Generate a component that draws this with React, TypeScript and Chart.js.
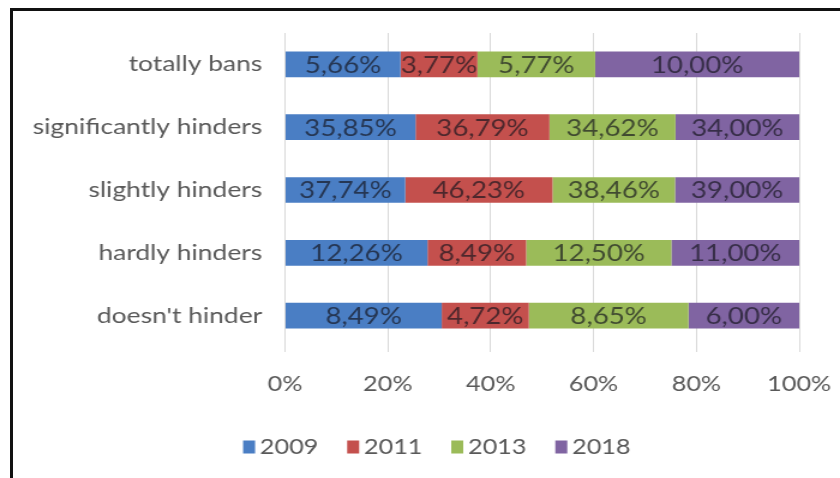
import { useEffect, useRef } from "react";
import { Chart, registerables } from "chart.js";

Chart.register(...registerables);

// Survey answers (rows) and the share of each answer in each survey year.
const categories = [
  "totally bans",
  "significantly hinders",
  "slightly hinders",
  "hardly hinders",
  "doesn't hinder",
];
const years = ["2009", "2011", "2013", "2018"];
const values2009 = [5.66, 35.85, 37.74, 12.26, 8.49];
const values2011 = [3.77, 36.79, 46.23, 8.49, 4.72];
const values2013 = [5.77, 34.62, 38.46, 12.5, 8.65];
const values2018 = [10.0, 34.0, 39.0, 11.0, 6.0];
const xTickValues = [0, 20, 40, 60, 80, 100];

const seriesValues = [values2009, values2011, values2013, values2018];
const seriesColors = ["#4A7EC4", "#C4504D", "#9BBB59", "#8064A2"];

const FONT = "Lato, 'Open Sans', sans-serif";
const TEXT_GRAY = "#595959";

// The chart is laid out on a narrower canvas and shown stretched horizontally.
const CANVAS_W = 700;
const CANVAS_H = 478;
const SHOWN_W = 840;

const fmt = (v: number) => v.toFixed(2).replace(".", ",") + "%";

// 100% stacked: each row is scaled by its own total.
const rowTotals = categories.map((_, j) =>
  seriesValues.reduce((s, arr) => s + arr[j], 0)
);

const valueLabelPlugin = {
  id: "valueLabels",
  afterDatasetsDraw(chart: any) {
    const ctx = chart.ctx;
    ctx.save();
    ctx.font = `23px ${FONT}`;
    ctx.fillStyle = "rgba(20,20,30,0.68)";
    ctx.textAlign = "center";
    ctx.textBaseline = "middle";
    chart.data.datasets.forEach((ds: any, i: number) => {
      const meta = chart.getDatasetMeta(i);
      meta.data.forEach((bar: any, j: number) => {
        const p = bar.getProps(["x", "y", "base"], true);
        ctx.fillText(fmt(ds.rawValues[j]), (p.x + p.base) / 2, p.y + 1);
      });
    });
    ctx.restore();
  },
};

const legendPlugin = {
  id: "bottomLegend",
  afterDraw(chart: any) {
    const ctx = chart.ctx;
    ctx.save();
    ctx.font = `21px ${FONT}`;
    ctx.textBaseline = "middle";
    ctx.textAlign = "left";
    const boxW = 10;
    const boxH = 13;
    const gapText = 4;
    const gapItem = 24;
    const items = chart.data.datasets.map((ds: any) => ({
      label: ds.label,
      color: ds.backgroundColor,
      w: boxW + gapText + ctx.measureText(ds.label).width,
    }));
    const total =
      items.reduce((s: number, it: any) => s + it.w, 0) +
      gapItem * (items.length - 1);
    let x = 364 - total / 2;
    const cy = 447;
    items.forEach((it: any) => {
      ctx.fillStyle = it.color;
      ctx.fillRect(x, cy - boxH / 2, boxW, boxH);
      ctx.fillStyle = TEXT_GRAY;
      ctx.fillText(it.label, x + boxW + gapText, cy);
      x += it.w + gapItem;
    });
    ctx.restore();
  },
};

export default function App() {
  const canvasRef = useRef<HTMLCanvasElement | null>(null);

  useEffect(() => {
    if (!canvasRef.current) return;
    const chart = new Chart(canvasRef.current, {
      type: "bar",
      data: {
        labels: categories,
        datasets: years.map((year, i) => ({
          label: year,
          data: seriesValues[i].map((v, j) => (v / rowTotals[j]) * 100),
          rawValues: seriesValues[i],
          backgroundColor: seriesColors[i],
          borderWidth: 0,
          barPercentage: 0.41,
          categoryPercentage: 1,
        })) as any,
      },
      options: {
        indexAxis: "y",
        responsive: false,
        animation: false,
        devicePixelRatio: 1,
        layout: { padding: { top: 33, right: 34, bottom: 0, left: 0 } },
        plugins: {
          legend: { display: false },
          tooltip: { enabled: false },
        },
        scales: {
          x: {
            stacked: true,
            min: 0,
            max: 100,
            afterBuildTicks(scale: any) {
              scale.ticks = xTickValues.map((v) => ({ value: v }));
            },
            afterFit(scale: any) {
              scale.height = 131;
              scale.paddingLeft = 0;
              scale.paddingRight = 0;
            },
            grid: {
              color: "#D9D9D9",
              lineWidth: 1,
              drawTicks: true,
              tickLength: 5,
            },
            border: { display: false },
            ticks: {
              padding: 20,
              color: TEXT_GRAY,
              font: { family: FONT, size: 21 },
              maxRotation: 0,
              callback: (v: any) => `${v}%`,
            },
          },
          y: {
            stacked: true,
            afterFit(scale: any) {
              scale.width = 237.5;
            },
            grid: { display: false },
            border: { display: false },
            ticks: {
              padding: 11,
              color: TEXT_GRAY,
              font: { family: FONT, size: 22 },
            },
          },
        },
      },
      plugins: [valueLabelPlugin, legendPlugin],
    });
    return () => chart.destroy();
  }, []);

  return (
    <div
      style={{
        position: "absolute",
        left: 0,
        top: 0,
        width: SHOWN_W,
        height: CANVAS_H,
        background: "#fff",
        overflow: "hidden",
      }}
    >
      <canvas
        ref={canvasRef}
        width={CANVAS_W}
        height={CANVAS_H}
        style={{
          position: "absolute",
          left: 0,
          top: 0,
          width: SHOWN_W,
          height: CANVAS_H,
        }}
      />
      <div
        style={{
          position: "absolute",
          left: 10,
          top: 8,
          width: SHOWN_W,
          height: CANVAS_H,
          borderLeft: "3px solid #111",
          borderTop: "3px solid #111",
          boxSizing: "border-box",
          pointerEvents: "none",
        }}
      />
    </div>
  );
}
